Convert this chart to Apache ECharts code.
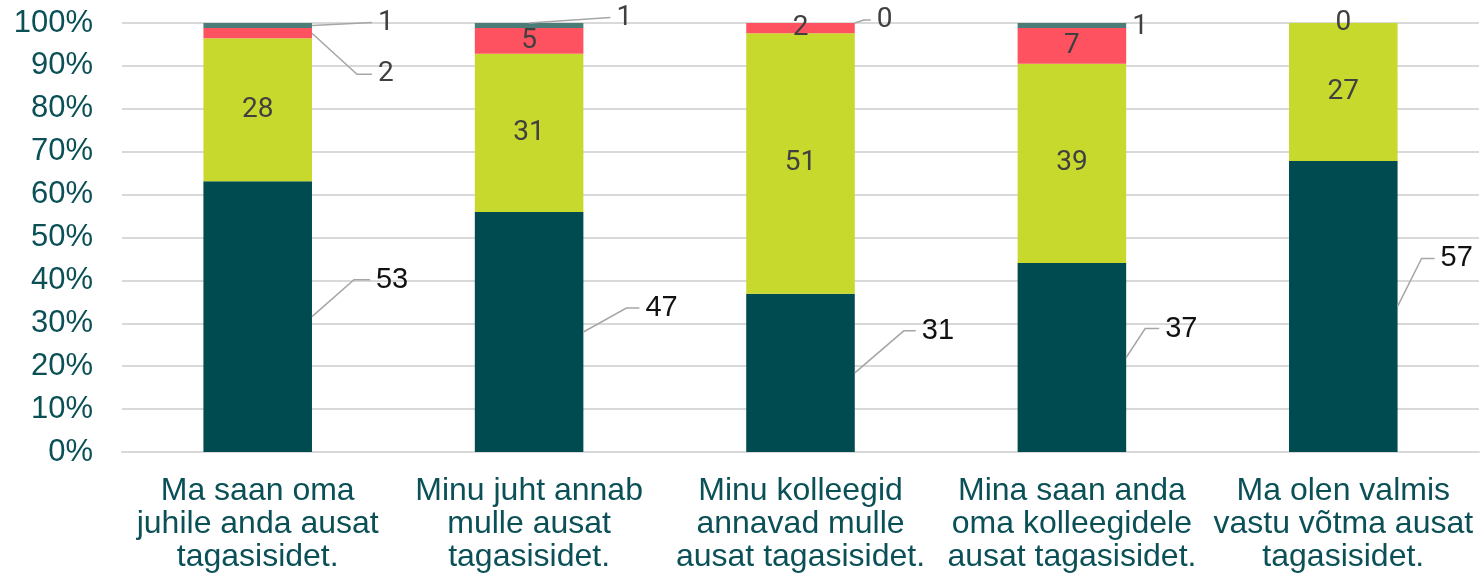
<!DOCTYPE html>
<html>
<head>
<meta charset="utf-8">
<script src="https://cdn.jsdelivr.net/npm/echarts@6/dist/echarts.min.js"></script>
<style>
  html, body { margin: 0; padding: 0; background: #fff; }
  #chart { width: 1480px; height: 580px; }
</style>
</head>
<body>
<div id="chart"></div>
<script>
// kategooriad (x-telg)
var categories = [
  'Ma saan oma\njuhile anda ausat\ntagasisidet.',
  'Minu juht annab\nmulle ausat\ntagasisidet.',
  'Minu kolleegid\nannavad mulle\nausat tagasisidet.',
  'Mina saan anda\noma kolleegidele\nausat tagasisidet.',
  'Ma olen valmis\nvastu võtma ausat\ntagasisidet.'
];

// vastuste arvud
var taiestiNous = [53, 47, 31, 37, 57];
var pigemNous = [28, 31, 51, 39, 27];
var pigemEi = [2, 5, 2, 7, 0];
var uldseEi = [1, 1, 0, 1, 0];

var yTicks = [0, 10, 20, 30, 40, 50, 60, 70, 80, 90, 100];

// sildi nihked: [dx paremast servast, dy lõigu keskelt, joone horisontaalosa (null = joont pole), algus keskelt?]
// null = silt tulba sees, 'hide' = silt peidus
var offDark = [[64, -37, 16], [62, -24, 13], [67, -42, 12], [39, -29, 14], [43, -48, 13]];
var offGreen = [null, null, null, null, null];
var offRed = [[66, 41, 15], null, null, null, null];
var offGrey = [[66, -3, 0], [33, -8, 0, true], [22, -3, 7], [6, 1, null], 'hide'];

var totals = categories.map(function (c, i) {
  return taiestiNous[i] + pigemNous[i] + pigemEi[i] + uldseEi[i];
});

var BAR_SHARE = 0.4;

function buildData(arr, offs) {
  return arr.map(function (v, i) {
    var item = { value: v / totals[i] * 100, count: v };
    if (offs[i] === 'hide') item.label = { show: false };
    return item;
  });
}

function makeLayout(offs) {
  return function (p) {
    var o = offs[p.dataIndex];
    if (!o || o === 'hide') return {};
    return {
      x: p.rect.x + p.rect.width + o[0],
      y: p.rect.y + p.rect.height / 2 + o[1],
      align: 'left',
      verticalAlign: 'middle'
    };
  };
}

function makeSeries(name, arr, offs, color, labelStyle) {
  return {
    name: name,
    type: 'bar',
    stack: 'kokku',
    barWidth: (BAR_SHARE * 100) + '%',
    itemStyle: { color: color },
    data: buildData(arr, offs),
    label: Object.assign({
      show: true,
      position: 'inside',
      formatter: function (p) { return p.data.count; },
      fontSize: 28,
      color: '#404040',
      fontFamily: 'Roboto, "Liberation Sans", sans-serif'
    }, labelStyle || {}),
    labelLayout: makeLayout(offs)
  };
}

// juhtjooned: [kategooria, lõigu keskkoht %, dx, dy, horisontaalosa, algus keskelt 0/1]
var allSeries = [taiestiNous, pigemNous, pigemEi, uldseEi];
var allOffs = [offDark, offGreen, offRed, offGrey];
var leaderData = [];
categories.forEach(function (c, i) {
  var base = 0;
  allSeries.forEach(function (arr, s) {
    var pct = arr[i] / totals[i] * 100;
    var o = allOffs[s][i];
    if (o && o !== 'hide' && o[2] !== null) {
      leaderData.push([i, base + pct / 2, base + pct, o[0], o[1], o[2], o[3] ? 1 : 0]);
    }
    base += pct;
  });
});

var chart = echarts.init(document.getElementById('chart'));

var option = {
  animation: false,
  backgroundColor: '#fff',
  grid: { left: 122, right: 1, top: 23, bottom: 128, containLabel: false },
  xAxis: {
    type: 'category',
    data: categories,
    axisLine: { show: true, lineStyle: { color: '#D9D9D9', width: 2 } },
    axisTick: { show: false },
    axisLabel: {
      interval: 0,
      margin: 23,
      fontSize: 32,
      lineHeight: 33,
      color: '#0B5057',
      fontFamily: '"Liberation Sans", Arial, sans-serif'
    }
  },
  yAxis: {
    type: 'value',
    min: yTicks[0],
    max: yTicks[yTicks.length - 1],
    interval: yTicks[1] - yTicks[0],
    axisLine: { show: false },
    axisTick: { show: false },
    splitLine: { lineStyle: { color: '#D9D9D9', width: 2 } },
    axisLabel: {
      formatter: '{value}%',
      margin: 29,
      fontSize: 31,
      color: '#0B5057',
      fontFamily: '"Liberation Sans", Arial, sans-serif'
    }
  },
  series: [
    makeSeries('Täiesti nõus', taiestiNous, offDark, '#004B50', {
      fontSize: 29,
      color: '#111',
      fontFamily: '"Liberation Sans", Arial, sans-serif'
    }),
    makeSeries('Pigem nõus', pigemNous, offGreen, '#C8D92D'),
    makeSeries('Pigem ei ole nõus', pigemEi, offRed, '#FF5260'),
    makeSeries('Üldse ei ole nõus', uldseEi, offGrey, '#4A7C78'),
    {
      type: 'custom',
      name: 'juhtjooned',
      silent: true,
      z: 5,
      data: leaderData,
      encode: { x: 0, y: 1 },
      renderItem: function (params, api) {
        var mid = api.coord([api.value(0), api.value(1)]);
        var top = api.coord([api.value(0), api.value(2)]);
        var half = api.size([1, 0])[0] * BAR_SHARE / 2;
        var x0 = mid[0] + half, y0 = mid[1];
        var lx = x0 + api.value(3), ly = y0 + api.value(4);
        var seg = api.value(5);
        var start = api.value(6) ? [mid[0], top[1]] : [x0, y0];
        var pts = seg > 0
          ? [start, [lx - 6 - seg, ly], [lx - 6, ly]]
          : [start, [lx - 6, ly]];
        return {
          type: 'polyline',
          shape: { points: pts },
          style: { stroke: '#A6A6A6', lineWidth: 1.5, fill: null }
        };
      }
    }
  ]
};

chart.setOption(option);
</script>
</body>
</html>
